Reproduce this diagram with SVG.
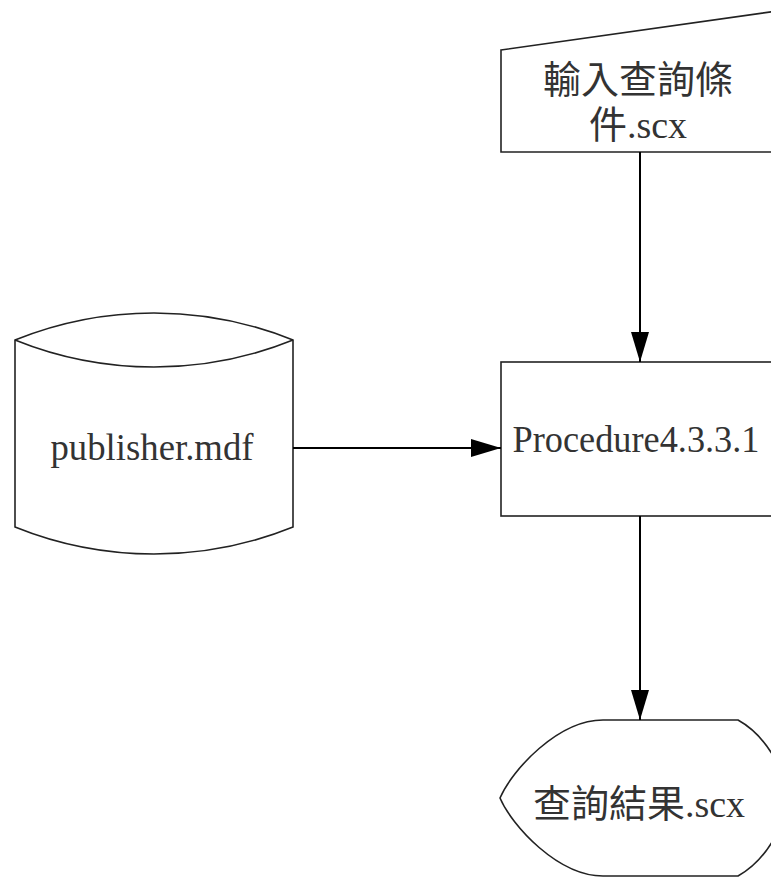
<svg xmlns="http://www.w3.org/2000/svg" width="771" height="879" viewBox="0 0 771 879">
<defs>
<style>
.shape{fill:#fff;stroke:#222;stroke-width:1.6}
.conn{fill:none;stroke:#000;stroke-width:2}
.cjk{font-family:"Liberation Serif","Noto Sans CJK TC",serif;font-size:38px;fill:#333;text-anchor:middle}
.lat{font-family:"Liberation Serif",serif;font-size:38px;fill:#333;text-anchor:middle}
</style>
<marker id="arr" markerWidth="30" markerHeight="18" refX="30" refY="9" orient="auto" markerUnits="userSpaceOnUse">
<path d="M0,0 L30,9 L0,18 Z" fill="#000"/>
</marker>
</defs>
<rect width="771" height="879" fill="#fff"/>
<g id="input">
<polygon class="shape" points="501,50 780,10.6 780,152 501,152"/>
<text class="cjk" x="638" y="93">輸入查詢條</text>
<text class="cjk" x="638" y="138">件.scx</text>
</g>
<g id="db">
<path class="shape" d="M15,340 A371,371 0 0 1 293,340 L293,527 A371,371 0 0 1 15,527 Z"/>
<path class="shape" fill="none" d="M15,340 A371,371 0 0 0 293,340"/>
<text class="lat" x="152" y="460" textLength="203" lengthAdjust="spacingAndGlyphs">publisher.mdf</text>
</g>
<g id="proc">
<rect class="shape" x="501" y="362" width="279" height="154"/>
<text class="lat" x="636" y="452" textLength="247" lengthAdjust="spacingAndGlyphs">Procedure4.3.3.1</text>
</g>
<g id="output">
<path class="shape" d="M603,720 L738,720 C765,735 786,770 786,798 C786,826 765,861 738,876 L603,876 C558,876 512,826 500,798 C512,770 558,720 603,720 Z"/>
<text class="cjk" x="639" y="817">查詢結果.scx</text>
</g>
<g id="connectors">
<line class="conn" x1="640" y1="152" x2="640" y2="362" marker-end="url(#arr)"/>
<line class="conn" x1="293" y1="448" x2="501" y2="448" marker-end="url(#arr)"/>
<line class="conn" x1="640" y1="516" x2="640" y2="720" marker-end="url(#arr)"/>
</g>
</svg>
